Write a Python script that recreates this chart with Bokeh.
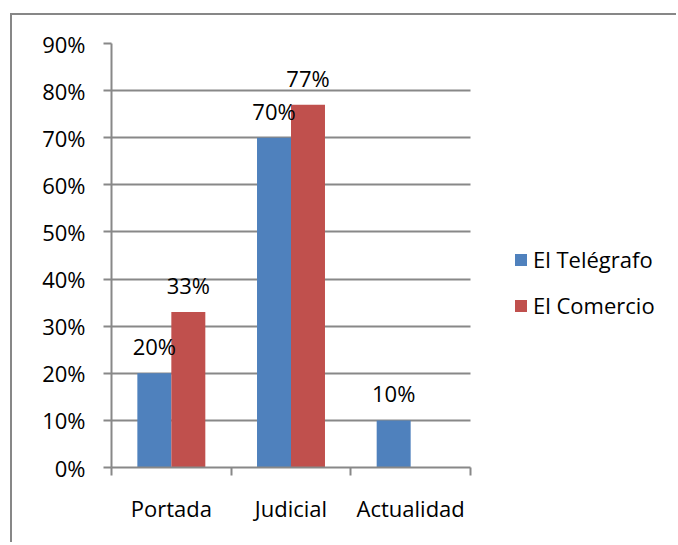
from bokeh.plotting import figure
from bokeh.models import (ColumnDataSource, Range1d, LinearAxis,
                          FixedTicker, NumeralTickFormatter, Legend, LegendItem,
                          CustomJSTickFormatter)
from bokeh.core.properties import value
from bokeh.embed import file_html
from bokeh.resources import INLINE

categories = ["Portada", "Judicial", "Actualidad"]
el_telegrafo = [0.20, 0.70, 0.10]
el_comercio = [0.33, 0.77, 0.0]
series_names = ["El Telégrafo", "El Comercio"]
y_ticks = [0.0, 0.1, 0.2, 0.3, 0.4, 0.5, 0.6, 0.7, 0.8, 0.9]

FONT = "Open Sans"
FS = "22px"
GRAY = "#888888"
BLUE = "#4F81BD"
RED = "#C0504D"
bw = 0.284

W, H = 666, 529
LEFT, TOP, BOTTOM = 99, 28, 77
PLOT_W = 359          # pixel width of the category area
FRAME_W = W - LEFT    # frame spans to the right edge (legend lives inside it)


def pct(vals):
    return [f"{round(v * 100)}%" if v else "" for v in vals]


n = len(categories)
centers = [i + 0.5 for i in range(n)]
source = ColumnDataSource(dict(
    x_tel=[c - bw / 2 for c in centers],
    x_com=[c + bw / 2 for c in centers],
    tel=el_telegrafo,
    com=el_comercio,
    tel_lbl=pct(el_telegrafo),
    com_lbl=pct(el_comercio),
))

p = figure(
    width=W, height=H,
    x_range=Range1d(0, n * FRAME_W / PLOT_W),
    y_range=Range1d(0, y_ticks[-1]),
    x_axis_location=None,
    output_backend="svg", toolbar_location=None,
    min_border_left=LEFT, min_border_top=TOP, min_border_right=0, min_border_bottom=BOTTOM,
    styles={"border-top": "2px solid #878787", "border-left": "2px solid #878787",
            "margin-left": "10px", "margin-top": "13px"},
)
p.outline_line_color = None
p.background_fill_color = "white"
p.border_fill_color = "white"
p.xgrid.visible = False

# y axis
ticker = FixedTicker(ticks=y_ticks)
p.yaxis.ticker = ticker
p.yaxis.formatter = NumeralTickFormatter(format="0%")
p.yaxis.axis_line_color = GRAY
p.yaxis.axis_line_width = 2
p.yaxis.major_tick_line_color = GRAY
p.yaxis.major_tick_line_width = 2
p.yaxis.major_tick_out = 8
p.yaxis.major_tick_in = 0
p.yaxis.minor_tick_line_color = None
p.yaxis.major_label_standoff = 18
p.yaxis.major_label_text_font = FONT
p.yaxis.major_label_text_font_size = FS
p.yaxis.major_label_text_color = "black"

p.ygrid.ticker = ticker
p.ygrid.grid_line_color = GRAY
p.ygrid.grid_line_width = 2
p.ygrid.cross_bounds = (0, n)

# category boundary ticks
edge_axis = LinearAxis(
    ticker=FixedTicker(ticks=list(range(n + 1))),
    bounds=(0, n),
    axis_line_color=GRAY, axis_line_width=2,
    major_tick_line_color=GRAY, major_tick_line_width=2,
    major_tick_out=8, major_tick_in=0,
    minor_tick_line_color=None,
    major_label_text_alpha=0, major_label_text_font_size="1px",
    major_label_standoff=0,
)
p.add_layout(edge_axis, "below")

# category labels
cat_axis = LinearAxis(
    ticker=FixedTicker(ticks=centers),
    formatter=CustomJSTickFormatter(args=dict(cats=categories),
                                    code="return cats[Math.floor(tick)]"),
    axis_line_color=None, major_tick_line_color=None, minor_tick_line_color=None,
    major_label_standoff=11,
    major_label_text_font=FONT, major_label_text_font_size=FS,
    major_label_text_color="black",
)
p.add_layout(cat_axis, "below")

r1 = p.vbar(x="x_tel", top="tel", width=bw, source=source, fill_color=BLUE, line_color=None)
r2 = p.vbar(x="x_com", top="com", width=bw, source=source, fill_color=RED, line_color=None)

for xc, col, lbl in (("x_tel", "tel", "tel_lbl"), ("x_com", "com", "com_lbl")):
    p.text(x=xc, y=col, text=lbl, source=source,
           text_align="center", text_baseline="middle", y_offset=-27,
           text_font=value(FONT), text_font_size=FS, text_color="black")

legend = Legend(
    items=[LegendItem(label=series_names[0], renderers=[r1]),
           LegendItem(label=series_names[1], renderers=[r2])],
    location=(402, 147),
    glyph_width=15, glyph_height=15, label_height=30, spacing=16,
    label_standoff=5, padding=0, margin=0,
    border_line_color=None, background_fill_alpha=0,
    label_text_font=FONT, label_text_font_size=FS, label_text_color="black",
)
p.add_layout(legend, "center")

open("out.html", "w").write(file_html(p, INLINE))
